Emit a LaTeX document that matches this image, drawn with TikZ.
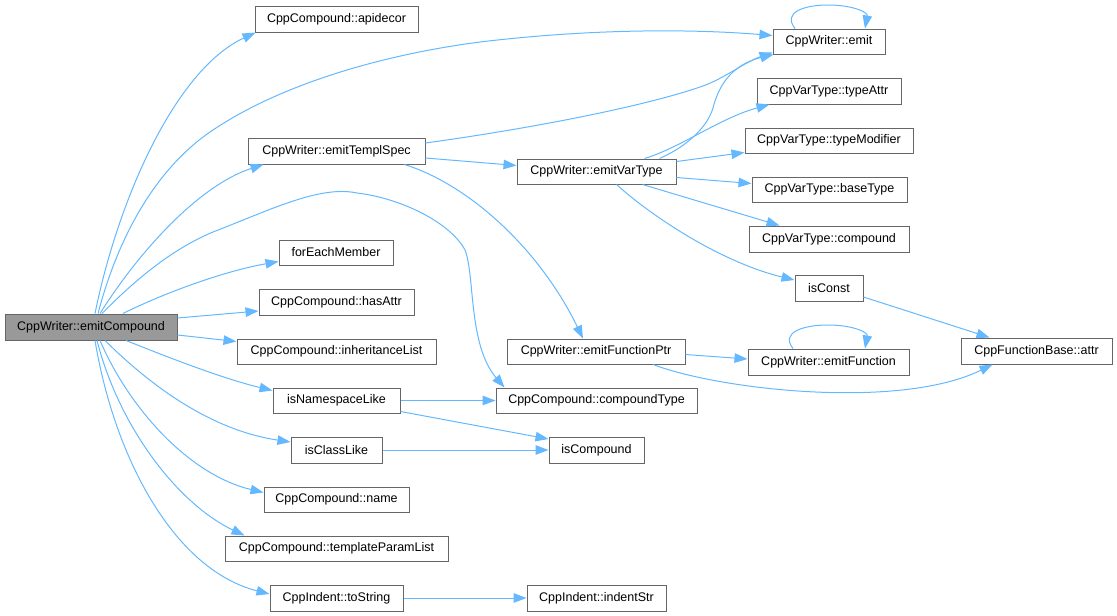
\documentclass[tikz,border=0pt]{standalone}
\usepackage{fontspec}
\setmainfont{Liberation Sans}
\usetikzlibrary{arrows.meta}
\definecolor{edgec}{HTML}{63B8FF}
\definecolor{boxc}{HTML}{666666}
\definecolor{grayf}{HTML}{999999}
\begin{document}
\begin{tikzpicture}[x=1pt,y=-1pt,
  box/.style={draw=boxc, line width=1pt, fill=white, inner sep=0pt, font=\fontsize{12.5}{14}\selectfont, text=black},
  edge/.style={draw=edgec, line width=1pt, -{Triangle[length=13pt,width=9.5pt]}}]
\useasboundingbox (0,0) rectangle (1117,616);
% nodes
\node[box, fill=grayf, minimum width=172pt, minimum height=26pt] (ec) at (91,327) {CppWriter::emitCompound};
\node[box, minimum width=163pt, minimum height=26pt] (ad) at (336.5,19) {CppCompound::apidecor};
\node[box, minimum width=177pt, minimum height=26pt] (ets) at (336.5,151) {CppWriter::emitTemplSpec};
\node[box, minimum width=114pt, minimum height=25pt] (fem) at (336,252.5) {forEachMember};
\node[box, minimum width=155pt, minimum height=26pt] (ha) at (336.5,302) {CppCompound::hasAttr};
\node[box, minimum width=199pt, minimum height=25pt] (il) at (336.5,351.5) {CppCompound::inheritanceList};
\node[box, minimum width=127pt, minimum height=25pt] (nl) at (336.5,400.5) {isNamespaceLike};
\node[box, minimum width=91pt, minimum height=26pt] (cl) at (336.5,450) {isClassLike};
\node[box, minimum width=145pt, minimum height=25pt] (nm) at (336.5,499.5) {CppCompound::name};
\node[box, minimum width=223pt, minimum height=25pt] (tpl) at (336.5,548.5) {CppCompound::templateParamList};
\node[box, minimum width=133pt, minimum height=26pt] (ts) at (336.5,598) {CppIndent::toString};
\node[box, minimum width=112pt, minimum height=25pt] (emit) at (829,41.5) {CppWriter::emit};
\node[box, minimum width=144pt, minimum height=26pt] (ta) at (829,91) {CppVarType::typeAttr};
\node[box, minimum width=168pt, minimum height=25pt] (tm) at (829,140.5) {CppVarType::typeModifier};
\node[box, minimum width=159pt, minimum height=25pt] (evt) at (596.5,171.5) {CppWriter::emitVarType};
\node[box, minimum width=155pt, minimum height=25pt] (bt) at (829.5,189.5) {CppVarType::baseType};
\node[box, minimum width=160pt, minimum height=26pt] (cp) at (829,239) {CppVarType::compound};
\node[box, minimum width=68pt, minimum height=26pt] (ic) at (829,288) {isConst};
\node[box, minimum width=178pt, minimum height=25pt] (efp) at (596,351.5) {CppWriter::emitFunctionPtr};
\node[box, minimum width=161pt, minimum height=26pt] (ef) at (828.5,362) {CppWriter::emitFunction};
\node[box, minimum width=151pt, minimum height=26pt] (fba) at (1036.5,351) {CppFunctionBase::attr};
\node[box, minimum width=201pt, minimum height=25pt] (ct) at (596.5,400.5) {CppCompound::compoundType};
\node[box, minimum width=95pt, minimum height=26pt] (icp) at (596.5,450) {isCompound};
\node[box, minimum width=139pt, minimum height=26pt] (is) at (596.5,598) {CppIndent::indentStr};
% edges from emitCompound
\draw[edge] ([xshift=4pt]ec.north) .. controls (118,200) and (175,70) .. ([xshift=1pt]ad.south west);
\draw[edge] ([xshift=7pt]ec.north) .. controls (120,230) and (160,165) .. (213,130) .. controls (280,85) and (380,55) .. (480,42) .. controls (580,30) and (680,28) .. ([yshift=6pt]emit.west);
\draw[edge] ([xshift=9pt]ec.north) .. controls (140,250) and (200,185) .. ([xshift=16pt]ets.south west);
\draw[edge] ([xshift=11pt]ec.north) .. controls (140,275) and (175,248) .. (213,232) .. controls (270,210) and (320,185) .. (357,193) .. controls (400,198) and (450,222) .. (465,250) .. controls (475,275) and (468,345) .. ([xshift=9pt]ct.north west);
\draw[edge] ([xshift=32pt]ec.north) .. controls (160,295) and (220,272) .. ([yshift=-9pt]fem.west);
\draw[edge] ([yshift=9pt]ec.east) -- ([yshift=-9pt]ha.west);
\draw[edge] ([yshift=-8pt]ec.east) -- ([yshift=10pt]il.west);
\draw[edge] ([xshift=35pt]ec.south) .. controls (160,354) and (220,378) .. ([yshift=10pt]nl.west);
\draw[edge] ([xshift=14pt]ec.south) .. controls (150,385) and (210,430) .. ([yshift=8pt]cl.west);
\draw[edge] ([xshift=9pt]ec.south) .. controls (130,410) and (190,475) .. ([yshift=7pt]nm.west);
\draw[edge] ([xshift=6pt]ec.south) .. controls (120,430) and (180,505) .. ([xshift=20pt]tpl.north west);
\draw[edge] ([xshift=4pt]ec.south) .. controls (115,460) and (175,570) .. ([yshift=4pt]ts.west);
% from emitTemplSpec
\draw[edge] ([yshift=8pt]ets.east) .. controls (520,130) and (640,108) .. (703,86) .. controls (725,78) and (745,62) .. ([yshift=2pt]emit.south west);
\draw[edge] ([yshift=-7pt]ets.east) -- ([yshift=6pt]evt.west);
\draw[edge] ([xshift=68pt]ets.south) .. controls (470,185) and (540,250) .. ([xshift=-13pt]efp.north);
% from emitVarType
\draw[edge] ([xshift=63pt]evt.north) .. controls (690,145) and (708,125) .. (713,108) .. controls (718,88) and (730,65) .. ([xshift=1pt]emit.south west);
\draw[edge] ([xshift=48pt]evt.north) .. controls (680,148) and (720,118) .. ([xshift=13pt]ta.south west);
\draw[edge] ([yshift=10pt]evt.east) -- ([yshift=1pt]tm.south west);
\draw[edge] ([yshift=-6pt]evt.east) -- ([yshift=6pt]bt.west);
\draw[edge] ([xshift=46pt]evt.south) -- ([xshift=31pt]cp.north west);
\draw[edge] ([xshift=20pt]evt.south) .. controls (650,215) and (720,262) .. ([yshift=8pt]ic.west);
% others
\draw[edge] ([yshift=-9pt]ic.east) -- ([xshift=29pt]fba.north west);
\draw[edge] ([yshift=-3pt]efp.east) -- ([yshift=3pt]ef.west);
\draw[edge] ([xshift=57pt]efp.south) .. controls (720,390) and (900,410) .. ([xshift=32pt]fba.south west);
\draw[edge] (nl) -- (ct);
\draw[edge] ([yshift=-11pt]nl.east) -- ([yshift=11pt]icp.west);
\draw[edge] (cl) -- (icp);
\draw[edge] (ts) -- (is);
% self loops
\draw[edge] ([xshift=-34pt]emit.north) .. controls (782,12) and (805,5) .. (828,5) .. controls (852,5) and (868,12) .. ([xshift=36pt]emit.north);
\draw[edge] ([xshift=-35.5pt]ef.north) .. controls (780,332) and (804,325) .. (828,325) .. controls (852,325) and (868,332) .. ([xshift=36.5pt]ef.north);
\end{tikzpicture}
\end{document}
